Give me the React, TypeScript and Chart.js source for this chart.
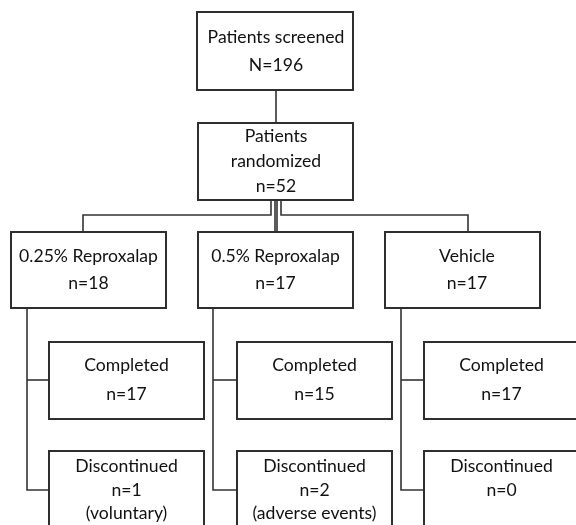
import React, { useEffect, useRef } from "react";
import { Chart, registerables } from "chart.js";

Chart.register(...registerables);

// ---- Data ----
const screenedLabel = "Patients screened";
const screenedN = 196;
const randomizedLabel = ["Patients", "randomized"];
const randomizedN = 52;
const armNames = ["0.25% Reproxalap", "0.5% Reproxalap", "Vehicle"];
const armN = [18, 17, 17];
const completedN = [17, 15, 17];
const discontinuedN = [1, 2, 0];
const discontinuedReasons = ["(voluntary)", "(adverse events)", ""];

// ---- Layout (data units of a 576 x 525 canvas-space scale) ----
const W = 576;
const H = 525;
const FONT = "17.6px Lato";
const TEXT = "#111111";
const BOX_STROKE = "#2e2e2e";
const LINE_STROKE = "#333333";

type Box = { x0: number; x1: number; y0: number; y1: number; tx: number; lines: string[]; ly: number[] };

function buildBoxes(): Box[] {
  const boxes: Box[] = [];
  boxes.push({ x0: 197, x1: 353, y0: 12, y1: 90, tx: 276, lines: [screenedLabel, `N=${screenedN}`], ly: [37, 65] });
  boxes.push({
    x0: 198, x1: 353, y0: 123, y1: 200, tx: 276,
    lines: [...randomizedLabel, `n=${randomizedN}`], ly: [136, 161, 186],
  });
  const armX0 = [11, 198, 385];
  const armTx = [88.5, 275.5, 467];
  armNames.forEach((name, i) => {
    boxes.push({ x0: armX0[i], x1: armX0[i] + 155, y0: 232, y1: 308, tx: armTx[i], lines: [name, `n=${armN[i]}`], ly: [256, 283] });
  });
  const subX0 = [49, 237, 424];
  completedN.forEach((n, i) => {
    boxes.push({ x0: subX0[i], x1: subX0[i] + 155, y0: 342, y1: 419, tx: subX0[i] + 77.5, lines: ["Completed", `n=${n}`], ly: [365, 394] });
  });
  discontinuedN.forEach((n, i) => {
    const lines = ["Discontinued", `n=${n}`];
    if (discontinuedReasons[i]) lines.push(discontinuedReasons[i]);
    boxes.push({ x0: subX0[i], x1: subX0[i] + 155, y0: 451, y1: 560, tx: subX0[i] + 77.5, lines, ly: [466, 490, 513] });
  });
  return boxes;
}

function buildConnectors(): number[][][] {
  const segs: number[][][] = [];
  // screened -> randomized
  segs.push([[276, 90], [276, 123]]);
  // randomized -> arms
  segs.push([[271, 200], [271, 215], [83, 215], [83, 232]]);
  segs.push([[275, 200], [275, 232]]);
  segs.push([[277, 200], [277, 232]]);
  segs.push([[281, 200], [281, 215], [468, 215], [468, 232]]);
  // arms -> completed / discontinued
  const trunkX = [27, 213, 401];
  const subX0 = [49, 237, 424];
  trunkX.forEach((tx, i) => {
    segs.push([[tx, 308], [tx, 490], [subX0[i], 490]]);
    segs.push([[tx, 380], [subX0[i], 380]]);
  });
  return segs;
}

const flowPlugin = {
  id: "flow",
  afterDraw(chart: any) {
    const ctx = chart.ctx as CanvasRenderingContext2D;
    const xs = chart.scales.x;
    const ys = chart.scales.y;
    const px = (v: number) => xs.getPixelForValue(v);
    const py = (v: number) => ys.getPixelForValue(v);
    ctx.save();
    // connectors
    ctx.strokeStyle = LINE_STROKE;
    ctx.lineWidth = 1.6;
    buildConnectors().forEach((seg) => {
      ctx.beginPath();
      seg.forEach(([x, y], k) => {
        if (k === 0) ctx.moveTo(px(x), py(y));
        else ctx.lineTo(px(x), py(y));
      });
      ctx.stroke();
    });
    // boxes
    buildBoxes().forEach((b) => {
      ctx.fillStyle = "#ffffff";
      ctx.fillRect(px(b.x0), py(b.y0), px(b.x1) - px(b.x0), py(b.y1) - py(b.y0));
      ctx.strokeStyle = BOX_STROKE;
      ctx.lineWidth = 2;
      ctx.strokeRect(px(b.x0), py(b.y0), px(b.x1) - px(b.x0), py(b.y1) - py(b.y0));
      ctx.fillStyle = TEXT;
      ctx.font = FONT;
      ctx.textAlign = "center";
      ctx.textBaseline = "middle";
      b.lines.forEach((t, k) => {
        ctx.fillText(t, px(b.tx), py(b.ly[k]));
      });
    });
    ctx.restore();
  },
};

export default function App() {
  const ref = useRef<HTMLCanvasElement | null>(null);
  useEffect(() => {
    if (!ref.current) return;
    const chart = new Chart(ref.current, {
      type: "scatter",
      data: { datasets: [] },
      options: {
        animation: false,
        responsive: false,
        layout: { padding: 0 },
        scales: {
          x: { type: "linear", min: 0, max: W, display: false },
          y: { type: "linear", min: 0, max: H, reverse: true, display: false },
        },
        plugins: { legend: { display: false }, tooltip: { enabled: false } },
      },
      plugins: [flowPlugin],
    });
    return () => chart.destroy();
  }, []);
  return (
    <div style={{ position: "fixed", left: 0, top: 0, width: W, height: H, background: "#fff" }}>
      <canvas ref={ref} width={W} height={H} style={{ display: "block" }} />
    </div>
  );
}
